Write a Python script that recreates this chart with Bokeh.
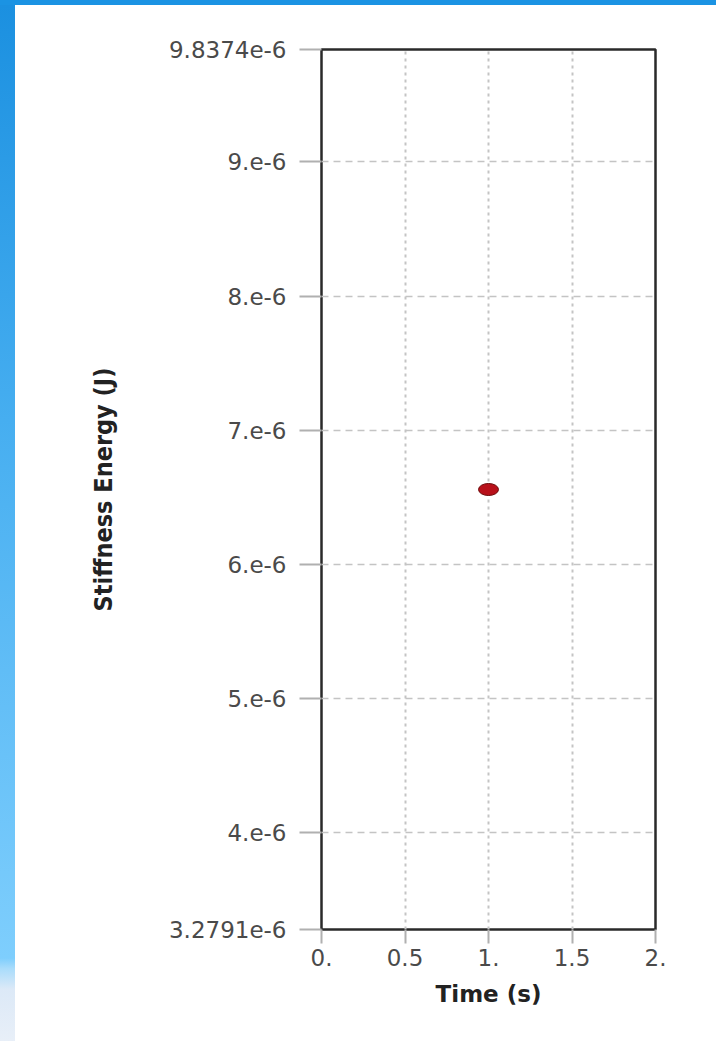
from bokeh.plotting import figure
from bokeh.models import FixedTicker, Div
from bokeh.layouts import column, row
from bokeh.embed import file_html
from bokeh.resources import INLINE

# ---- data ----
time_s = [1.0]
stiffness_energy = [6.55825e-6]

x_ticks = [0.0, 0.5, 1.0, 1.5, 2.0]
x_tick_labels = ["0.", "0.5", "1.", "1.5", "2."]
y_ticks = [3.2791e-6, 4e-6, 5e-6, 6e-6, 7e-6, 8e-6, 9e-6, 9.8374e-6]
y_tick_labels = ["3.2791e-6", "4.e-6", "5.e-6", "6.e-6", "7.e-6", "8.e-6", "9.e-6", "9.8374e-6"]
x_range = (0.0, 2.0)
y_range = (3.2791e-6, 9.8374e-6)

p = figure(width=701, height=1036, x_range=x_range, y_range=y_range,
           output_backend="svg", toolbar_location=None,
           min_border_left=306, min_border_right=61, min_border_top=44, min_border_bottom=112)
p.background_fill_color = "white"
p.border_fill_color = "white"
p.outline_line_color = "#2a2a2a"
p.outline_line_width = 2.5

p.ellipse(x=time_s, y=stiffness_energy, width=20, height=12,
          width_units="screen", height_units="screen",
          fill_color="#b8101a", line_color="#6a0808", line_width=1)

xa = p.xaxis[0]
xa.ticker = FixedTicker(ticks=x_ticks)
xa.major_label_overrides = {t: l for t, l in zip(x_ticks, x_tick_labels)}
ya = p.yaxis[0]
ya.ticker = FixedTicker(ticks=y_ticks)
ya.major_label_overrides = {t: l for t, l in zip(y_ticks, y_tick_labels)}

for ax in (xa, ya):
    ax.axis_line_color = None
    ax.minor_tick_line_color = None
    ax.major_tick_in = 0
    ax.major_tick_line_color = "#b0b0b0"
    ax.major_tick_line_width = 2
    ax.major_label_text_font = "DejaVu Sans"
    ax.major_label_text_font_size = "23px"
    ax.major_label_text_color = "#4a4a4a"
    ax.axis_label_text_color = "#222222"
    ax.axis_label_text_font_style = "bold"

xa.major_tick_out = 14
xa.major_label_standoff = 5
xa.axis_label = "Time (s)"
xa.axis_label_text_font = "DejaVu Sans"
xa.axis_label_text_font_size = "23px"
xa.axis_label_standoff = 12

ya.major_tick_out = 22
ya.major_label_standoff = 13
ya.axis_label = "Stiffness Energy (J)"
ya.axis_label_text_font = "DejaVu Sans Condensed"
ya.axis_label_text_font_size = "25px"
ya.axis_label_standoff = 48

p.xgrid.ticker = FixedTicker(ticks=x_ticks)
p.ygrid.ticker = FixedTicker(ticks=y_ticks[1:-1])
p.xgrid.grid_line_color = "#c4c4c4"
p.xgrid.grid_line_dash = "3 4"
p.xgrid.grid_line_width = 2
p.ygrid.grid_line_color = "#c4c4c4"
p.ygrid.grid_line_dash = "7 5"
p.ygrid.grid_line_width = 1.5

top_bar = Div(text="", width=716, height=5,
              styles={"background": "#1b93e3", "margin": "0", "padding": "0"})
left_bar = Div(text="", width=15, height=1036,
               styles={"background": "linear-gradient(to bottom, #1b90e0 0%, #46aef0 40%, #7ecefd 92%, #a9dcfb 93%, #dce9f7 95%, #e8eff8 100%)",
                       "margin": "0", "padding": "0"})

layout = column(top_bar, row(left_bar, p, spacing=0), spacing=0)

open("out.html", "w").write(file_html(layout, INLINE))
